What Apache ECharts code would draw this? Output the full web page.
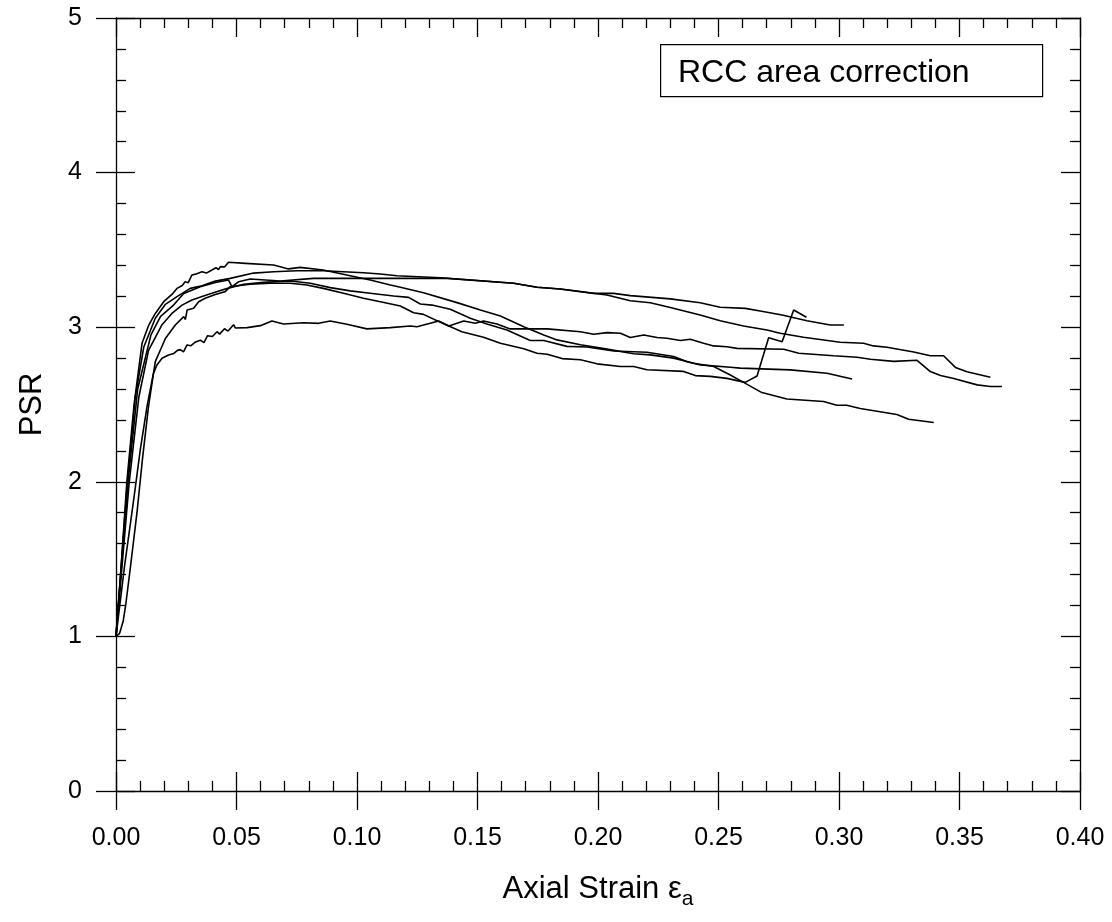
<!DOCTYPE html>
<html>
<head>
<meta charset="utf-8">
<script src="https://cdn.jsdelivr.net/npm/echarts@6/dist/echarts.min.js"></script>
<style>
html,body{margin:0;padding:0;background:#fff;}
#chart{width:1112px;height:922px;}
</style>
</head>
<body>
<div id="chart"></div>
<script>
// ---- data ----
const xTickLabels = ['0.00','0.05','0.10','0.15','0.20','0.25','0.30','0.35','0.40'];
const yTickLabels = ['0','1','2','3','4','5'];
const legendText = 'RCC area correction';

const c1Strain = [0,0.002,0.0045,0.0075,0.0108,0.0136,0.0163,0.0198,0.0232,0.0253,0.0275,0.0287,0.0300,0.0315,0.0335,0.0357,0.0375,0.0398,0.0415,0.0425,0.0433,0.0450,0.0467,0.0474,0.0537,0.0654,0.0716,0.0764,0.086,0.0957,0.1055,0.1138,0.118,0.1276,0.1415,0.1512,0.1595,0.1692,0.1775,0.1830,0.1927,0.2038,0.2148,0.2217,0.2314,0.2397,0.248,0.2549,0.2604,0.268,0.2784,0.2936,0.2991,0.3032,0.3088,0.3240,0.3289,0.3393];
const c1PSR    = [1.0,1.42,2.0,2.5,2.896,3.014,3.089,3.165,3.212,3.251,3.27,3.294,3.288,3.338,3.345,3.359,3.350,3.37,3.385,3.372,3.392,3.39,3.42,3.42,3.413,3.402,3.377,3.387,3.37,3.338,3.305,3.273,3.258,3.223,3.159,3.111,3.073,3.003,2.95,2.918,2.886,2.858,2.828,2.821,2.8,2.767,2.746,2.691,2.643,2.577,2.536,2.519,2.495,2.495,2.474,2.435,2.405,2.384];

const c2Strain = [0,0.0045,0.008,0.0115,0.0163,0.0205,0.0253,0.0308,0.0357,0.0412,0.0474,0.0571,0.0654,0.0751,0.086,0.1027,0.1097,0.1166,0.1346,0.1429,0.165,0.1747,0.1843,0.1982,0.2065,0.2134,0.2300,0.2424,0.2507,0.2611,0.2673,0.2764,0.2867,0.2964,0.302];
const c2PSR    = [1.0,1.95,2.55,2.87,3.058,3.148,3.198,3.251,3.268,3.298,3.316,3.35,3.359,3.365,3.365,3.352,3.344,3.333,3.32,3.31,3.284,3.258,3.247,3.219,3.219,3.204,3.183,3.158,3.129,3.122,3.105,3.079,3.042,3.014,3.014];

const c3Strain = [0,0.005,0.009,0.0145,0.0185,0.0239,0.0281,0.035,0.0412,0.0467,0.0481,0.0509,0.0557,0.0682,0.082,0.1027,0.1097,0.1374,0.165,0.1747,0.1843,0.2037,0.2134,0.2217,0.230,0.2424,0.2507,0.2604,0.2701,0.2756,0.2853,0.3005,0.3102,0.3143,0.3199,0.331,0.3379,0.3434,0.3483,0.3531,0.3628];
const c3PSR    = [1.0,2.0,2.6,2.95,3.07,3.143,3.218,3.262,3.289,3.305,3.262,3.294,3.312,3.299,3.316,3.316,3.316,3.316,3.284,3.258,3.247,3.208,3.171,3.158,3.128,3.079,3.042,3.008,2.982,2.961,2.935,2.903,2.896,2.879,2.87,2.84,2.815,2.815,2.74,2.712,2.676];

const c4Strain = [0,0.0055,0.0095,0.0135,0.019,0.0232,0.0274,0.0315,0.0357,0.0398,0.044,0.0474,0.053,0.0612,0.0723,0.0806,0.0889,0.0972,0.1055,0.1152,0.1214,0.1263,0.1311,0.1387,0.147,0.1539,0.1622,0.1719,0.1775,0.1871,0.1954,0.2065,0.2203,0.2314,0.237,0.2425,0.2549,0.259,0.2798,0.295,0.3054];
const c4PSR    = [1.0,2.0,2.55,2.85,3.014,3.089,3.143,3.176,3.198,3.219,3.241,3.256,3.278,3.29,3.299,3.284,3.256,3.235,3.22,3.202,3.193,3.15,3.143,3.116,3.058,3.021,2.982,2.914,2.914,2.876,2.872,2.846,2.838,2.81,2.777,2.756,2.741,2.735,2.724,2.702,2.665];

const c5Strain = [0,0.0015,0.003,0.004,0.006,0.0087,0.011,0.0135,0.0163,0.0205,0.0246,0.0281,0.0288,0.0295,0.0322,0.0330,0.0343,0.037,0.0412,0.0453,0.0474,0.0557,0.064,0.0723,0.0792,0.086,0.0944,0.1027,0.1097,0.118,0.1235,0.1276,0.1332,0.1435,0.1525,0.1595,0.1692,0.1747,0.1789,0.1851,0.1927,0.1996,0.2093,0.2148,0.2203,0.2355,0.2404,0.2466,0.2535,0.2611,0.266,0.2708,0.2764,0.2812,0.2865];
const c5PSR    = [1.0,1.02,1.1,1.2,1.45,1.8,2.15,2.49,2.777,2.927,3.014,3.068,3.05,3.111,3.122,3.11,3.165,3.187,3.212,3.23,3.262,3.278,3.284,3.284,3.273,3.251,3.219,3.187,3.165,3.137,3.094,3.083,3.042,2.971,2.935,2.896,2.86,2.832,2.825,2.797,2.789,2.763,2.746,2.746,2.725,2.714,2.687,2.682,2.669,2.643,2.684,2.932,2.906,3.111,3.064];

const c6Strain = [0,0.0035,0.0073,0.0101,0.0129,0.0155,0.0170,0.0191,0.0218,0.0240,0.0255,0.0267,0.0280,0.0295,0.0310,0.0330,0.0350,0.0365,0.0380,0.0400,0.0419,0.0430,0.0450,0.0465,0.0488,0.0495,0.0544,0.0599,0.0647,0.0695,0.0778,0.0841,0.0889,0.0958,0.1041,0.1138,0.1221,0.1249,0.1339,0.1381,0.1443,0.1491,0.1525,0.1581,0.1636,0.1789,0.1927,0.1982,0.2038,0.2093,0.2134,0.219,0.2245,0.2286,0.2342,0.2383,0.2438,0.248,0.2535,0.2577,0.2771,0.2833,0.2978,0.3075,0.3131,0.3227,0.3324,0.3379,0.3421,0.3476,0.3573,0.3628,0.3676];
const c6PSR    = [1.0,1.45,1.88,2.21,2.49,2.70,2.756,2.799,2.82,2.83,2.85,2.855,2.84,2.885,2.88,2.905,2.916,2.90,2.945,2.94,2.971,2.955,2.99,2.975,3.016,2.995,2.997,3.01,3.04,3.021,3.029,3.025,3.04,3.019,2.989,2.997,3.008,3.003,3.04,3.008,3.04,3.025,3.04,3.021,2.989,2.989,2.971,2.954,2.965,2.961,2.933,2.95,2.933,2.929,2.914,2.922,2.896,2.879,2.874,2.863,2.857,2.832,2.815,2.806,2.793,2.779,2.786,2.713,2.687,2.668,2.627,2.616,2.616];

const curves = [
  [c1Strain, c1PSR], [c2Strain, c2PSR], [c3Strain, c3PSR],
  [c4Strain, c4PSR], [c5Strain, c5PSR], [c6Strain, c6PSR]
];

// ---- chart ----
const FONT = '"Liberation Sans", Arial, sans-serif';
const AX = { lineStyle: { color: '#000', width: 1.3 } };
const chart = echarts.init(document.getElementById('chart'), null, { renderer: 'canvas' });

const xBase = { type: 'value', min: 0, max: 0.4, interval: 0.05, splitLine: { show: false } };
const yBase = { type: 'value', min: 0, max: 5, interval: 1, splitLine: { show: false } };

const option = {
  animation: false,
  backgroundColor: '#fff',
  grid: { left: 116, top: 18, right: 32, bottom: 131, containLabel: false },
  xAxis: [
    Object.assign({}, xBase, {
      position: 'bottom',
      axisLine: { show: true, onZero: false, lineStyle: AX.lineStyle },
      axisTick: { show: true, inside: false, length: 19, lineStyle: AX.lineStyle },
      axisLabel: { show: true, margin: 35, fontSize: 25, fontFamily: FONT, color: '#000',
        formatter: (v) => xTickLabels[Math.round(v / 0.05)] },
      name: '{m|Axial Strain ε}{s|a}',
      nameLocation: 'middle', nameGap: 78,
      nameTextStyle: { fontFamily: FONT, color: '#000',
        rich: { m: { fontSize: 31, fontFamily: FONT, color: '#000' },
                s: { fontSize: 21, fontFamily: FONT, color: '#000', padding: [20, 0, 0, 0] } } }
    }),
    Object.assign({}, xBase, {
      position: 'bottom',
      axisLine: { show: false, onZero: false },
      axisTick: { show: true, inside: true, length: 19, lineStyle: AX.lineStyle },
      minorTick: { show: true, splitNumber: 5, length: 10, lineStyle: AX.lineStyle },
      axisLabel: { show: false }
    }),
    Object.assign({}, xBase, {
      position: 'top',
      axisLine: { show: true, onZero: false, lineStyle: AX.lineStyle },
      axisTick: { show: true, inside: true, length: 19, lineStyle: AX.lineStyle },
      minorTick: { show: true, splitNumber: 5, length: 10, lineStyle: AX.lineStyle },
      axisLabel: { show: false }
    })
  ],
  yAxis: [
    Object.assign({}, yBase, {
      position: 'left',
      axisLine: { show: true, onZero: false, lineStyle: AX.lineStyle },
      axisTick: { show: true, inside: false, length: 20, lineStyle: AX.lineStyle },
      axisLabel: { show: true, margin: 34, fontSize: 25, fontFamily: FONT, color: '#000',
        formatter: (v) => yTickLabels[Math.round(v)] },
      name: 'PSR', nameLocation: 'middle', nameGap: 68, nameRotate: 90,
      nameTextStyle: { fontSize: 31, fontFamily: FONT, color: '#000' }
    }),
    Object.assign({}, yBase, {
      position: 'left',
      axisLine: { show: false, onZero: false },
      axisTick: { show: true, inside: true, length: 19, lineStyle: AX.lineStyle },
      minorTick: { show: true, splitNumber: 5, length: 10, lineStyle: AX.lineStyle },
      axisLabel: { show: false }
    }),
    Object.assign({}, yBase, {
      position: 'right',
      axisLine: { show: true, onZero: false, lineStyle: AX.lineStyle },
      axisTick: { show: true, inside: true, length: 19, lineStyle: AX.lineStyle },
      minorTick: { show: true, splitNumber: 5, length: 10, lineStyle: AX.lineStyle },
      axisLabel: { show: false }
    })
  ],
  series: curves.map((c, i) => ({
    type: 'line',
    name: 'curve' + (i + 1),
    xAxisIndex: 0, yAxisIndex: 0,
    data: c[0].map((x, j) => [x, c[1][j]]),
    showSymbol: false, symbol: 'none',
    lineStyle: { color: '#000', width: 1.6 },
    clip: true
  })),
  graphic: [
    { type: 'rect', left: 660, top: 44, shape: { width: 382, height: 52 },
      style: { fill: '#fff', stroke: '#000', lineWidth: 1.2 }, z: 10 },
    { type: 'text', left: 678, top: 57, z: 11,
      style: { text: legendText, font: '32px ' + FONT, fill: '#000' } }
  ]
};
chart.setOption(option);
</script>
</body>
</html>
